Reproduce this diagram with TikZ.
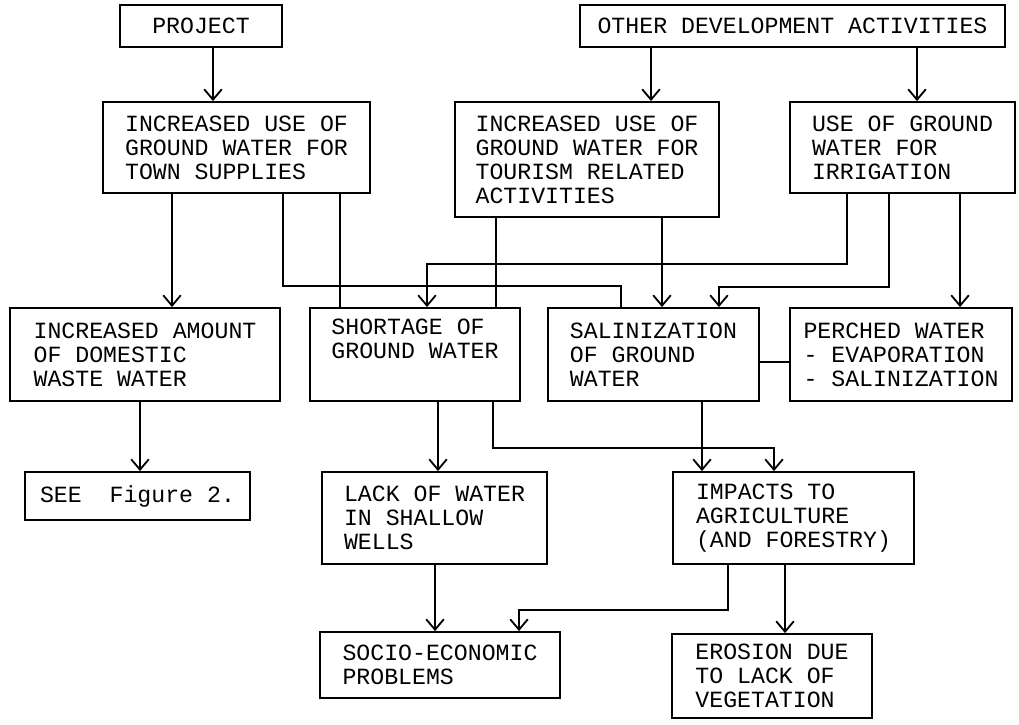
\documentclass[tikz,border=0pt]{standalone}
\usepackage{fontspec}
\usepackage{tikz}
\usetikzlibrary{arrows.meta}
\newfontfamily\dotfont{Liberation Mono}

\begin{document}
\begin{tikzpicture}[x=0.025cm, y=-0.025cm,
  box/.style={draw, line width=1.3pt, align=left, inner sep=3pt,
    font=\dotfont\fontsize{16.5pt}{17pt}\selectfont},
  arr/.style={line width=1.3pt, -{Straight Barb[length=2.6mm,width=4.4mm]}},
  link/.style={line width=1.3pt}]
  \useasboundingbox (0,0) rectangle (1019,724);
  % Sources
  \node[box, minimum width=4.05cm, minimum height=1.05cm] (proj) at (201,26) {PROJECT};
  \node[box, minimum width=10.625cm, minimum height=1.05cm] (other) at (792.5,26) {OTHER DEVELOPMENT ACTIVITIES};
  % Use of ground water
  \node[box, minimum width=6.675cm, minimum height=2.275cm] (town) at (236.5,147.5)
    {INCREASED USE OF\\GROUND WATER FOR\\TOWN SUPPLIES};
  \node[box, minimum width=6.6cm, minimum height=2.875cm] (tour) at (587,159.5)
    {INCREASED USE OF\\GROUND WATER FOR\\TOURISM RELATED\\ACTIVITIES};
  \node[box, minimum width=5.625cm, minimum height=2.275cm] (irr) at (902.5,147.5)
    {USE OF GROUND\\WATER FOR\\IRRIGATION};
  % Effects on ground water
  \node[box, minimum width=6.75cm, minimum height=2.325cm] (dom) at (145,354.5)
    {INCREASED AMOUNT\\OF DOMESTIC\\WASTE WATER};
  \node[box, minimum width=5.25cm, minimum height=2.325cm] (short) at (415,354.5)
    {SHORTAGE OF\\GROUND WATER\\\strut};
  \node[box, minimum width=5.275cm, minimum height=2.325cm] (salin) at (653.5,354.5)
    {SALINIZATION\\OF GROUND\\WATER};
  \node[box, minimum width=5.55cm, minimum height=2.325cm] (perch) at (901,354.5)
    {PERCHED WATER\\- EVAPORATION\\- SALINIZATION};
  % Impacts
  \node[box, minimum width=5.625cm, minimum height=1.2cm] (see) at (137.5,496) {SEE\ \ Figure 2.};
  \node[box, minimum width=5.625cm, minimum height=2.3cm] (lack) at (434.5,518)
    {LACK OF WATER\\IN SHALLOW\\WELLS};
  \node[box, minimum width=6.025cm, minimum height=2.3cm] (imp) at (793.5,518)
    {IMPACTS TO\\AGRICULTURE\\(AND FORESTRY)};
  \node[box, minimum width=6cm, minimum height=1.65cm] (socio) at (440,665)
    {SOCIO-ECONOMIC\\PROBLEMS};
  \node[box, minimum width=5cm, minimum height=2.1cm] (eros) at (772,676)
    {EROSION DUE\\TO LACK OF\\VEGETATION};
  % Straight arrows
  \foreach \a/\b/\x in {proj/town/213, other/tour/651, other/irr/917, town/dom/172,
      tour/salin/662, irr/perch/960, dom/see/140, short/lack/438, salin/imp/702,
      lack/socio/435, imp/eros/785}
    \draw[arr] (\a.south -| \x,0) -- (\b.north -| \x,0);
  % Straight joins
  \foreach \a/\b/\x in {town/short/340, tour/short/496}
    \draw[link] (\a.south -| \x,0) -- (\b.north -| \x,0);
  % Elbow connectors
  \draw[link] (town.south -| 283,0) -- (283,286) -| (salin.north -| 621,0);
  \draw[arr] (irr.south -| 847,0) -- (847,264) -| (short.north -| 427,0);
  \draw[arr] (irr.south -| 889,0) -- (889,287) -| (salin.north -| 719,0);
  \draw[arr] (short.south -| 493,0) -- (493,448) -| (imp.north -| 774,0);
  \draw[arr] (imp.south -| 728,0) -- (728,610) -| (socio.north -| 519,0);
  \draw[link] (salin.east |- 0,362) -- (perch.west |- 0,362);
\end{tikzpicture}
\end{document}
